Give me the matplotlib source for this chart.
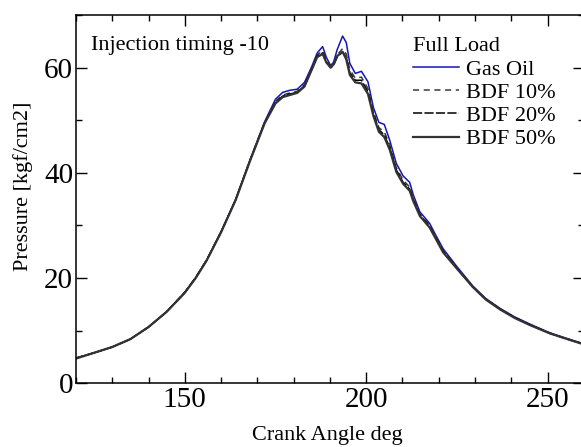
import matplotlib
matplotlib.use("Agg")
import matplotlib.pyplot as plt
from matplotlib.ticker import MultipleLocator

plt.rcParams['font.family'] = ['Liberation Serif', 'DejaVu Serif']

# crank angle (deg)
angle = [120, 125, 130, 135, 140, 145, 150, 153, 156, 160, 164, 168, 172, 175,
         177, 179, 181, 183, 185, 186.5, 188, 189, 190.2, 191, 192, 193.5, 194.5,
         195.5, 197, 198.7, 200.5, 202, 203.5, 205, 206.5, 208.3, 210.2, 212, 213,
         214.8, 217.5, 219, 221.2, 225, 229.4, 233, 237, 241, 245, 250.6, 255, 260]

# pressure [kgf/cm2]
gas_oil = [4.8, 5.8, 6.9, 8.4, 10.7, 13.6, 17.3, 20.1, 23.4, 28.8, 34.9, 42.5, 49.7, 54.0,
           55.3, 55.7, 55.9, 57.2, 60.2, 62.8, 64.0, 62.0, 60.4, 61.0, 63.4, 66.0, 64.8,
           60.8, 58.9, 59.3, 57.3, 52.4, 49.6, 49.2, 46.2, 41.8, 39.4, 38.2, 35.8,
           32.6, 30.4, 28.4, 25.6, 22.2, 18.5, 16.1, 14.2, 12.6, 11.3, 9.6, 8.6, 7.5]
bdf10 = [4.8, 5.8, 6.9, 8.4, 10.7, 13.6, 17.3, 20.1, 23.4, 28.8, 34.9, 42.5, 49.6, 53.6,
         54.8, 55.2, 55.5, 56.8, 59.9, 62.4, 63.2, 61.6, 60.2, 60.6, 62.4, 63.6, 62.6,
         59.6, 58.0, 58.2, 56.0, 51.6, 48.6, 47.8, 45.3, 41.0, 38.6, 37.3, 35.2,
         32.2, 30.0, 28.1, 25.3, 22.0, 18.4, 16.0, 14.1, 12.5, 11.2, 9.6, 8.5, 7.5]
bdf20 = [4.8, 5.8, 6.9, 8.4, 10.7, 13.6, 17.3, 20.1, 23.4, 28.8, 34.9, 42.4, 49.5, 53.4,
         54.6, 55.0, 55.3, 56.6, 59.7, 62.2, 62.8, 61.2, 60.0, 60.4, 62.0, 63.0, 62.0,
         59.0, 57.6, 57.6, 55.4, 51.2, 48.2, 47.2, 44.8, 40.6, 38.2, 36.9, 34.9,
         32.0, 29.8, 27.9, 25.1, 21.9, 18.3, 16.0, 14.1, 12.5, 11.2, 9.5, 8.5, 7.4]
bdf50 = [4.7, 5.8, 6.9, 8.4, 10.7, 13.6, 17.2, 20.0, 23.3, 28.7, 34.8, 42.3, 49.4, 53.2,
         54.4, 54.8, 55.2, 56.4, 59.6, 62.0, 62.6, 61.0, 60.0, 60.6, 62.2, 63.0, 61.6,
         58.6, 57.2, 57.0, 55.0, 50.8, 47.8, 46.8, 44.4, 40.2, 37.9, 36.6, 34.6,
         31.8, 29.6, 27.7, 24.9, 21.8, 18.3, 15.9, 14.0, 12.4, 11.1, 9.5, 8.5, 7.4]

fig = plt.figure(figsize=(5.81, 4.47), dpi=100)
# right edge of the frame sits just outside the picture, like the reference crop
ax = fig.add_axes([0.1308, 0.1425, 0.874, 0.8239])

ax.plot(angle, gas_oil, color='#1515b5', lw=1.1, label='Gas Oil')
ax.plot(angle, bdf10, color='#383838', lw=1.1, ls=(0, (4, 3)), label='BDF 10%')
ax.plot(angle, bdf20, color='black', lw=1.1, ls=(0, (6, 1.5)), label='BDF 20%')
ax.plot(angle, bdf50, color='#333333', lw=1.6, label='BDF 50%')

ax.set_xlim(120, 260)
ax.set_ylim(0, 70)
ax.xaxis.set_major_locator(MultipleLocator(50))
ax.xaxis.set_minor_locator(MultipleLocator(10))
ax.yaxis.set_major_locator(MultipleLocator(20))
ax.yaxis.set_minor_locator(MultipleLocator(10))
ax.tick_params(which='both', direction='in', top=True, right=True, width=1.0)
ax.tick_params(which='major', length=8, labelsize=21, pad=3)
ax.tick_params(which='minor', length=4.5)
ax.tick_params(axis='y', pad=2)
for s in ax.spines.values():
    s.set_linewidth(1.1)

ax.set_xlabel('Crank Angle deg', fontsize=16)
ax.set_ylabel('Pressure [kgf/cm2]', fontsize=16)
ax.xaxis.set_label_coords(0.494, -0.143)
ax.xaxis.label.set_va('center')
ax.yaxis.set_label_coords(-0.104, 0.534)
ax.yaxis.label.set_va('center')

ax.text(0.0295, 0.918, 'Injection timing -10', transform=ax.transAxes,
        fontsize=16, va='center', ha='left')

leg = ax.legend(title='Full Load', loc='upper left', bbox_to_anchor=(0.663, 0.939),
                frameon=False, fontsize=16, title_fontsize=16, alignment='left',
                borderpad=0, borderaxespad=0, labelspacing=0.12,
                handlelength=2.1, handletextpad=0.32)

fig.savefig('out.png', dpi=100)
